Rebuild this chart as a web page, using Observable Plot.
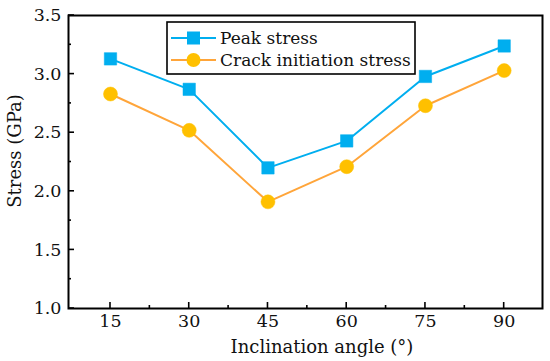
<!DOCTYPE html>
<html><head><meta charset="utf-8">
<script src="https://cdn.jsdelivr.net/npm/d3@7"></script>
<script src="https://cdn.jsdelivr.net/npm/@observablehq/plot@0.6"></script>
<style>
html,body{margin:0;padding:0;background:#fff;}
#chart{position:relative;width:550px;height:361px;}
</style>
</head><body><div id="chart"></div>
<script>
const angles = [15, 30, 45, 60, 75, 90];
const peakStress = [3.13, 2.87, 2.20, 2.43, 2.98, 3.24];
const crackStress = [2.83, 2.52, 1.91, 2.21, 2.73, 3.03];
const seriesNames = ["Peak stress", "Crack initiation stress"];
const xTicks = [15, 30, 45, 60, 75, 90];
const xMinor = [22.5, 37.5, 52.5, 67.5, 82.5];
const yTicks = [1.0, 1.5, 2.0, 2.5, 3.0, 3.5];
const yMinor = [1.25, 1.75, 2.25, 2.75, 3.25];

const blue = "#00AEEF", orangeLine = "#FFA53A", orangeFill = "#FFC000";
const font = "'DejaVu Serif', serif";

const peak = angles.map((a, i) => ({x: a, y: peakStress[i]}));
const crack = angles.map((a, i) => ({x: a, y: crackStress[i]}));

const plot = Plot.plot({
  width: 550, height: 361,
  marginLeft: 68, marginRight: 8, marginTop: 15, marginBottom: 53,
  style: {fontFamily: font, fontSize: "17.5px", color: "#111", background: "#fff"},
  x: {domain: [7, 97.3]},
  y: {domain: [1, 3.5]},
  marks: [
    Plot.axisX({ticks: xTicks, tickSize: 0, tickPadding: 6, tickFormat: d => d, label: null}),
    Plot.axisY({ticks: yTicks, tickSize: 0, tickPadding: 7, tickFormat: d => d.toFixed(1), label: null}),
    Plot.line(peak, {x: "x", y: "y", stroke: blue, strokeWidth: 2}),
    Plot.line(crack, {x: "x", y: "y", stroke: orangeLine, strokeWidth: 2}),
    Plot.dot(peak, {x: "x", y: "y", symbol: "square", r: 7, fill: blue, stroke: blue, strokeWidth: 0.5}),
    Plot.dot(crack, {x: "x", y: "y", symbol: "circle", r: 7, fill: orangeFill, stroke: orangeFill, strokeWidth: 0.5}),
    Plot.frame({stroke: "#000", strokeWidth: 2})
  ]
});
document.getElementById("chart").appendChild(plot);

const svg = d3.select(plot);
const sx = plot.scale("x"), sy = plot.scale("y");
const [yb, yt] = sy.range, [xl, xr] = sx.range;
// inward ticks
const tg = svg.append("g").attr("stroke", "#000").attr("stroke-width", 1.6);
xTicks.forEach(v => tg.append("line").attr("x1", sx.apply(v)).attr("x2", sx.apply(v)).attr("y1", yb).attr("y2", yb - 6));
xMinor.forEach(v => tg.append("line").attr("x1", sx.apply(v)).attr("x2", sx.apply(v)).attr("y1", yb).attr("y2", yb - 3));
yTicks.forEach(v => tg.append("line").attr("y1", sy.apply(v)).attr("y2", sy.apply(v)).attr("x1", xl).attr("x2", xl + 6));
yMinor.forEach(v => tg.append("line").attr("y1", sy.apply(v)).attr("y2", sy.apply(v)).attr("x1", xl).attr("x2", xl + 3));

// axis titles
svg.append("text").attr("x", 322).attr("y", 353).attr("text-anchor", "middle")
  .attr("font-family", font).attr("font-size", 18).attr("fill", "#111").text("Inclination angle (°)");
svg.append("text").attr("transform", "translate(21,151) rotate(-90)").attr("text-anchor", "middle")
  .attr("font-family", font).attr("font-size", 18).attr("fill", "#111").text("Stress (GPa)");

// legend
const lg = svg.append("g").attr("text-anchor", "start");
lg.append("rect").attr("x", 167).attr("y", 22).attr("width", 248).attr("height", 52)
  .attr("fill", "#fff").attr("stroke", "#000").attr("stroke-width", 1.6);
const items = [
  {name: seriesNames[0], line: blue, fill: blue, sym: "square", y: 38},
  {name: seriesNames[1], line: orangeLine, fill: orangeFill, sym: "circle", y: 60}
];
items.forEach(it => {
  lg.append("line").attr("x1", 171).attr("x2", 216).attr("y1", it.y).attr("y2", it.y)
    .attr("stroke", it.line).attr("stroke-width", 2);
  if (it.sym === "square") {
    lg.append("rect").attr("x", 187).attr("y", it.y - 6.5).attr("width", 13).attr("height", 13).attr("fill", it.fill);
  } else {
    lg.append("circle").attr("cx", 193.5).attr("cy", it.y).attr("r", 7).attr("fill", it.fill);
  }
  lg.append("text").attr("x", 220).attr("y", it.y + 6).attr("text-anchor", "start").attr("font-family", font).attr("font-size", 17)
    .attr("fill", "#111").text(it.name);
});
</script>
</body></html>
